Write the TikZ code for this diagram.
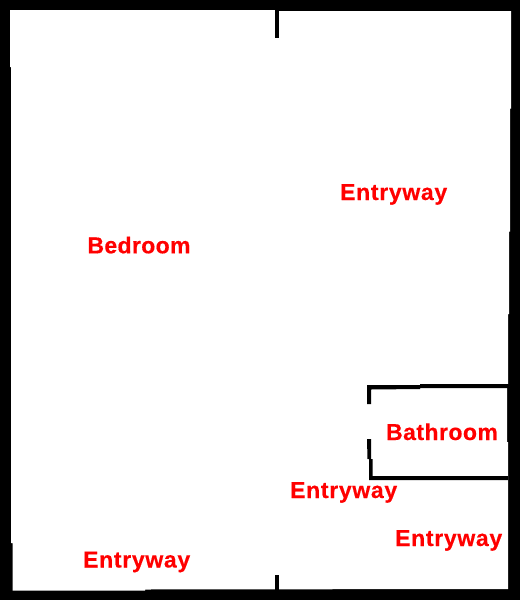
\documentclass[tikz,border=0pt]{standalone}
\usepackage{fontspec}
\setmainfont{Liberation Sans}
\newcommand{\roomfont}[1]{\fontsize{23}{24}\selectfont\bfseries\addfontfeatures{LetterSpace=#1,FakeBold=0.4}}
\tikzset{
  roomlabel/.style={text=red,inner sep=0pt,anchor=base,font=\roomfont{#1}},
  roomlabel/.default=3,
  wall/.style={fill=black,draw=none}
}
\begin{document}
\begin{tikzpicture}[x=1pt,y=-1pt]
\useasboundingbox (0,0) rectangle (520,600);
% outer walls: black ground with the white floor cut out
\fill[black] (0,0) rectangle (520,600);
\fill[white] (10,10) -- (275,10) -- (275,11) -- (511,11) -- (511,108.7) -- (510,108.7) -- (510,231.7)
  -- (509,231.7) -- (509,314) -- (508,314) -- (508,384) -- (507,384) -- (507,442) -- (508,442) -- (508,589)
  -- (145,589.5) -- (145,590.5) -- (12.7,590.5) -- (12.7,543) -- (11,543) -- (11,67) -- (10,67) -- cycle;
% door stubs
\fill[wall] (275,10) rectangle (279,38);
\fill[wall] (275,575) rectangle (279,590);
% bathroom walls
\fill[wall] (367,385) -- (420,385) -- (420,384) -- (508,384) -- (508,388) -- (420,388) -- (420,389)
  -- (371,389.5) -- (371,404) -- (367,404) -- cycle;
\fill[wall] (367,439) -- (371,439) -- (371,459) -- (372.5,459) -- (372.5,476) -- (508,476) -- (508,480)
  -- (369,480) -- (369,459) -- (367.5,459) -- cycle;
% labels
\node[roomlabel] (entry1) at (393.7,200) {Entryway};
\node[roomlabel=1.5] (bed) at (139,253.3) {Bedroom};
\node[roomlabel=2] (bath) at (442,440) {Bathroom};
\node[roomlabel] (entry2) at (343.7,498) {Entryway};
\node[roomlabel] (entry3) at (448.7,546) {Entryway};
\node[roomlabel] (entry4) at (136.7,567.5) {Entryway};
\end{tikzpicture}
\end{document}
